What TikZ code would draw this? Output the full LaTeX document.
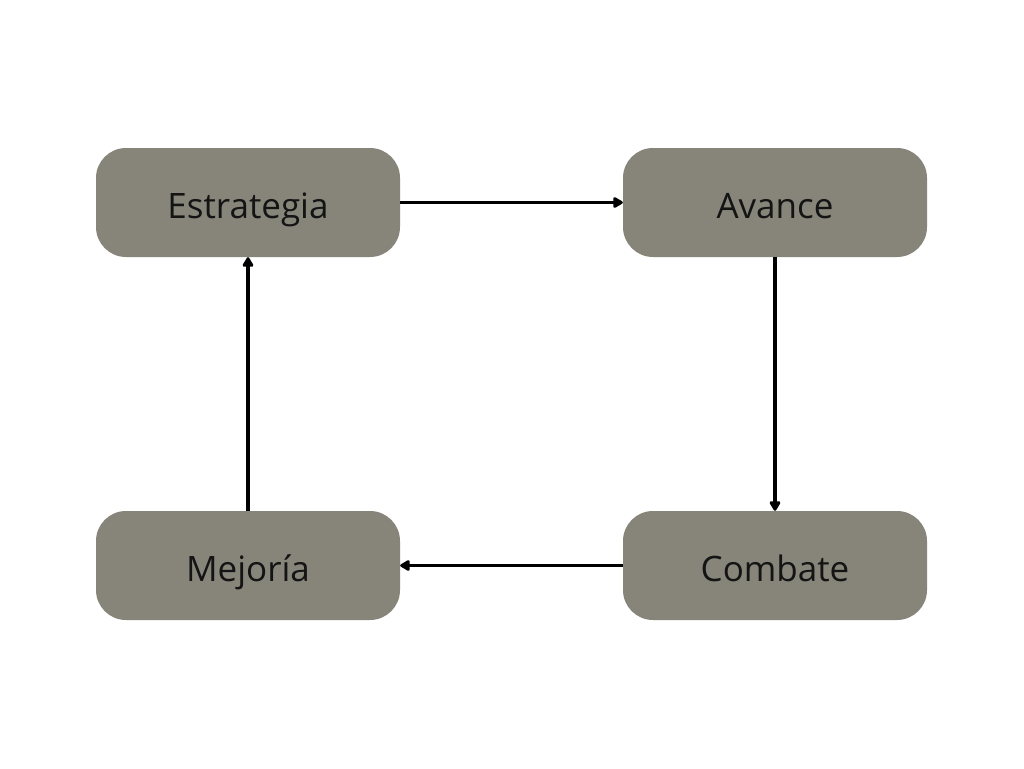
\documentclass[tikz,border=0pt]{standalone}
\usepackage{fontspec}
\setmainfont{Open Sans}
\usetikzlibrary{arrows.meta}
\definecolor{boxgrey}{HTML}{878579}
\definecolor{txt}{HTML}{141414}
\begin{document}
\begin{tikzpicture}[x=1pt,y=-1pt,
  stagebox/.style={draw=none,fill=boxgrey,rounded corners=30pt,minimum width=304pt,minimum height=109pt,inner sep=0pt,text=txt,text height=31pt,text depth=0pt,font=\fontsize{35}{42}\selectfont},
  flow/.style={line width=3.4pt,-{Triangle[length=11pt,width=12pt,round]}}]
\useasboundingbox (0,0) rectangle (1024,768);
\fill[white] (0,0) rectangle (1024,768);
\node[stagebox] (est) at (248,202.5) {Estrategia};
\node[stagebox] (ava) at (775,202.5) {Avance};
\node[stagebox] (mej) at (248,565.5) {Mejoría};
\node[stagebox] (com) at (775,565.5) {Combate};
\draw[flow] (est.east) -- (ava.west);
\draw[flow] (ava.south) -- (com.north);
\draw[flow] (com.west) -- (mej.east);
\draw[flow] (mej.north) -- (est.south);
\end{tikzpicture}
\end{document}
